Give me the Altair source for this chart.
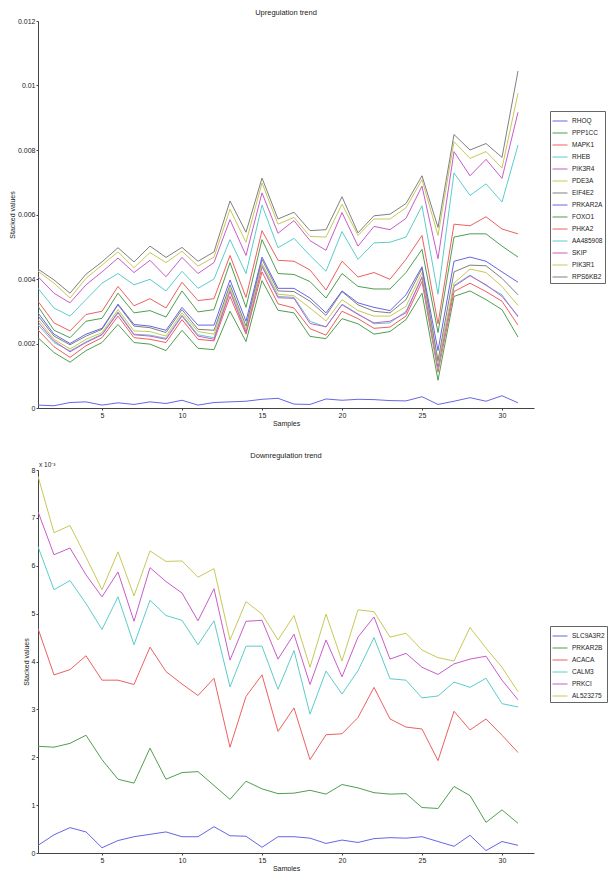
import altair as alt
import pandas as pd

samples = list(range(1, 32))

# ---------------- Upregulation (values in units of 1e-3) ----------------
up_genes = ["RHOQ", "PPP1CC", "MAPK1", "RHEB", "PIK3R4", "PDE3A", "EIF4E2",
            "PRKAR2A", "FOXO1", "PHKA2", "AA485908", "SKIP", "PIK3R1", "RPS6KB2"]

RHOQ = [0.09, 0.07, 0.17, 0.19, 0.09, 0.16, 0.11, 0.19, 0.14, 0.24, 0.09, 0.17, 0.19, 0.21, 0.27, 0.30,
        0.12, 0.11, 0.28, 0.24, 0.27, 0.26, 0.23, 0.22, 0.35, 0.11, 0.21, 0.32, 0.21, 0.38, 0.16]
PPP1CC = [2.18, 1.72, 1.42, 1.78, 2.03, 2.59, 2.03, 1.98, 1.78, 2.41, 1.85, 1.81, 3.00, 2.06, 3.95, 3.03,
          2.95, 2.22, 2.15, 2.77, 2.61, 2.29, 2.37, 2.74, 3.56, 0.86, 3.46, 3.63, 3.36, 3.05, 2.20]
MAPK1 = [2.42, 1.90, 1.57, 1.93, 2.18, 2.85, 2.18, 2.13, 2.03, 2.74, 2.13, 2.08, 3.46, 2.29, 4.22, 3.23,
         3.10, 2.46, 2.26, 3.00, 2.77, 2.47, 2.51, 2.85, 3.92, 1.11, 3.61, 3.87, 3.61, 3.31, 2.57]
RHEB = [2.58, 2.03, 1.77, 2.05, 2.29, 2.98, 2.29, 2.26, 2.16, 2.88, 2.27, 2.18, 3.66, 2.39, 4.43, 3.46,
        3.43, 2.69, 2.51, 3.22, 2.92, 2.61, 2.64, 3.00, 4.04, 1.21, 3.80, 4.12, 3.80, 3.51, 2.82]
PIK3R4 = [2.66, 2.08, 1.74, 2.03, 2.27, 2.95, 2.27, 2.23, 2.13, 2.85, 2.23, 2.13, 3.61, 2.34, 4.38, 3.42,
          3.40, 2.62, 2.52, 3.20, 2.90, 2.64, 2.69, 2.95, 4.07, 1.27, 3.77, 4.10, 3.82, 3.46, 2.85]
PDE3A = [2.75, 2.13, 1.83, 2.13, 2.34, 3.05, 2.39, 2.37, 2.23, 2.95, 2.37, 2.29, 3.71, 2.44, 4.48, 3.53,
         3.48, 3.10, 2.70, 3.36, 3.02, 2.85, 2.85, 3.15, 4.20, 1.37, 3.87, 4.31, 4.20, 3.77, 3.18]
EIF4E2 = [2.86, 2.23, 1.96, 2.23, 2.44, 3.20, 2.54, 2.49, 2.34, 3.05, 2.44, 2.41, 3.82, 2.54, 4.61, 3.63,
          3.61, 3.31, 2.87, 3.61, 3.20, 3.00, 2.95, 3.36, 4.33, 1.47, 4.22, 4.43, 4.41, 4.02, 3.51]
PRKAR2A = [2.95, 2.29, 2.00, 2.29, 2.47, 3.22, 2.59, 2.54, 2.41, 3.12, 2.57, 2.57, 3.97, 2.69, 4.68, 3.71,
           3.71, 3.41, 2.95, 3.63, 3.26, 3.12, 3.02, 3.51, 4.38, 1.78, 4.55, 4.68, 4.55, 4.22, 3.90]
FOXO1 = [3.15, 2.41, 2.18, 2.69, 2.78, 3.56, 2.95, 3.02, 2.82, 3.63, 2.98, 3.05, 4.51, 3.12, 5.22, 4.17,
         4.14, 3.92, 3.41, 4.17, 3.77, 3.69, 3.69, 4.20, 4.92, 2.34, 5.30, 5.40, 5.40, 5.02, 4.68]
PHKA2 = [3.31, 2.64, 2.39, 2.90, 3.00, 3.77, 3.17, 3.39, 3.10, 3.90, 3.33, 3.39, 4.73, 3.43, 5.50, 4.58,
         4.55, 4.28, 3.66, 4.55, 4.06, 4.20, 3.99, 4.61, 5.35, 2.61, 5.70, 5.65, 5.93, 5.55, 5.40]
AA485908 = [3.71, 3.10, 2.85, 3.36, 3.87, 4.17, 3.82, 3.99, 3.63, 4.24, 3.71, 4.00, 5.22, 4.17, 6.29, 4.97,
            5.26, 4.73, 4.24, 5.47, 4.61, 5.12, 5.14, 5.30, 6.27, 3.53, 7.29, 6.59, 6.95, 6.39, 8.15]
SKIP = [4.07, 3.56, 3.26, 3.82, 4.22, 4.65, 4.20, 4.58, 4.07, 4.67, 4.17, 4.51, 5.84, 4.73, 6.67, 5.42,
        5.81, 5.19, 4.89, 6.06, 5.02, 5.63, 5.53, 5.88, 6.88, 4.63, 7.95, 7.20, 7.71, 7.12, 9.17]
PIK3R1 = [4.24, 3.87, 3.41, 4.02, 4.43, 4.84, 4.35, 4.82, 4.51, 4.86, 4.40, 4.68, 6.16, 5.14, 6.98, 5.70,
          5.91, 5.32, 5.30, 6.32, 5.35, 5.86, 5.86, 6.21, 7.08, 5.35, 8.26, 7.74, 7.95, 7.44, 9.76]
RPS6KB2 = [4.31, 3.97, 3.56, 4.15, 4.53, 4.97, 4.53, 5.02, 4.67, 4.98, 4.55, 4.84, 6.42, 5.45, 7.13, 5.86,
           6.07, 5.50, 5.53, 6.55, 5.43, 5.96, 6.01, 6.34, 7.20, 5.60, 8.48, 8.00, 8.20, 7.77, 10.45]

up_series = [RHOQ, PPP1CC, MAPK1, RHEB, PIK3R4, PDE3A, EIF4E2,
             PRKAR2A, FOXO1, PHKA2, AA485908, SKIP, PIK3R1, RPS6KB2]

# ---------------- Downregulation (values in units of 1e-3) ----------------
down_genes = ["SLC9A3R2", "PRKAR2B", "ACACA", "CALM3", "PRKCI", "AL523275"]

SLC9A3R2 = [0.16, 0.38, 0.53, 0.44, 0.11, 0.26, 0.34, 0.39, 0.44, 0.34, 0.34, 0.55, 0.36, 0.35, 0.12, 0.34,
            0.34, 0.31, 0.20, 0.27, 0.22, 0.30, 0.32, 0.31, 0.34, 0.24, 0.14, 0.37, 0.05, 0.24, 0.16]
PRKAR2B = [2.23, 2.21, 2.29, 2.46, 1.95, 1.54, 1.46, 2.19, 1.54, 1.68, 1.70, 1.41, 1.12, 1.50, 1.34, 1.24,
           1.25, 1.31, 1.23, 1.43, 1.36, 1.26, 1.23, 1.24, 0.95, 0.93, 1.39, 1.20, 0.64, 0.90, 0.62]
ACACA = [4.69, 3.72, 3.83, 4.12, 3.61, 3.61, 3.52, 4.30, 3.79, 3.53, 3.29, 3.65, 2.21, 3.27, 3.72, 2.54,
         3.03, 1.95, 2.47, 2.49, 2.83, 3.46, 2.80, 2.63, 2.59, 1.93, 2.96, 2.57, 2.80, 2.46, 2.10]
CALM3 = [6.40, 5.50, 5.69, 5.21, 4.67, 5.35, 4.35, 5.28, 4.96, 4.86, 4.35, 4.85, 3.47, 4.32, 4.32, 3.42,
         4.23, 2.90, 3.80, 3.32, 3.81, 4.50, 3.64, 3.61, 3.24, 3.28, 3.57, 3.46, 3.65, 3.12, 3.05]
PRKCI = [7.13, 6.23, 6.37, 5.81, 5.35, 5.87, 4.84, 5.96, 5.67, 5.43, 4.85, 5.52, 4.03, 4.84, 4.86, 4.05,
         4.57, 3.52, 4.45, 3.68, 4.51, 4.93, 4.05, 4.17, 3.88, 3.73, 3.95, 4.05, 4.11, 3.61, 3.20]
AL523275 = [7.87, 6.69, 6.84, 6.18, 5.50, 6.29, 5.37, 6.31, 6.09, 6.10, 5.76, 5.94, 4.45, 5.25, 4.99, 4.45,
            4.96, 3.88, 4.99, 4.01, 5.08, 5.04, 4.51, 4.59, 4.24, 4.08, 4.01, 4.71, 4.28, 3.88, 3.37]

down_series = [SLC9A3R2, PRKAR2B, ACACA, CALM3, PRKCI, AL523275]

x_ticks = [5, 10, 15, 20, 25, 30]
up_ticks = [0, 0.002, 0.004, 0.006, 0.008, 0.01, 0.012]
down_ticks = [0, 0.001, 0.002, 0.003, 0.004, 0.005, 0.006, 0.007, 0.008]

matlab_colors = ["#6666e8", "#4f9f4f", "#ec6060", "#5ccccc", "#c85cc8", "#c8c85a", "#808080"]

FONT = "Liberation Sans"
AXIS_COLOR = "#444"
PLOT_W = 496
TOP_H = 387
BOT_H = 383


def long_table(genes, series):
    rows = []
    for g, vals in zip(genes, series):
        for s, v in zip(samples, vals):
            rows.append({"gene": g, "sample": s, "value": v * 1e-3})
    return pd.DataFrame(rows)


up_df = long_table(up_genes, up_series)
down_df = long_table(down_genes, down_series)


def panel(df, genes, title, ydomain, yticks, label_expr, legend_y, title_offset):
    colors = [matlab_colors[i % len(matlab_colors)] for i in range(len(genes))]
    xscale = alt.Scale(domain=[1, 32], nice=False, zero=False)
    yscale = alt.Scale(domain=ydomain, nice=False, zero=True)

    return alt.Chart(df, title=alt.Title(
        title, fontSize=7.5, font=FONT, fontWeight="normal", color="#222", offset=title_offset)
    ).mark_line(strokeWidth=1, clip=True).encode(
        x=alt.X("sample:Q", scale=xscale,
                axis=alt.Axis(values=x_ticks, title="Samples", format="d",
                              labelPadding=1, titlePadding=1)),
        y=alt.Y("value:Q", scale=yscale,
                axis=alt.Axis(values=yticks, labelExpr=label_expr, title="Stacked values",
                              labelPadding=1)),
        color=alt.Color("gene:N",
                        scale=alt.Scale(domain=genes, range=colors),
                        legend=alt.Legend(orient="none", legendX=512, legendY=legend_y,
                                          title=None, symbolType="stroke", symbolSize=225,
                                          symbolStrokeWidth=1,
                                          labelFontSize=6.5,
                                          labelFont=FONT, labelColor="#222",
                                          strokeColor="#666", fillColor="white",
                                          padding=2, rowPadding=0, labelOffset=4)),
        order=alt.Order("sample:Q"),
    )


top = panel(up_df, up_genes, "Upregulation trend", [0, 0.012], up_ticks,
            "datum.value == 0 ? '0' : format(datum.value, '~g')", 90, 1
            ).properties(width=PLOT_W, height=TOP_H)

bottom_base = panel(down_df, down_genes, "Downregulation trend", [0, 0.008], down_ticks,
                    "format(round(datum.value * 1000), 'd')", 156, 3)

exp_text = alt.Chart(pd.DataFrame({"t": ["x 10\u207b\u00b3"]})).mark_text(
    align="left", baseline="bottom", fontSize=6.5, font=FONT, color="#222"
).encode(text="t:N", x=alt.value(1), y=alt.value(-2))

bottom = alt.layer(bottom_base, exp_text).properties(width=PLOT_W, height=BOT_H)

chart = alt.vconcat(top, bottom, spacing=25).resolve_scale(color="independent").properties(
    padding={"left": 0, "top": 0, "right": 0, "bottom": 0}
).configure_view(stroke=None).configure_axis(
    grid=False, domainColor=AXIS_COLOR, tickColor=AXIS_COLOR, ticks=True, tickSize=2,
    labelFont=FONT, labelFontSize=7, labelColor="#222", labelPadding=1,
    titleFont=FONT, titleFontSize=7, titleFontWeight="normal", titleColor="#222",
    titlePadding=2
)

chart.save("out.html", embed_options={"renderer": "svg", "actions": False})
